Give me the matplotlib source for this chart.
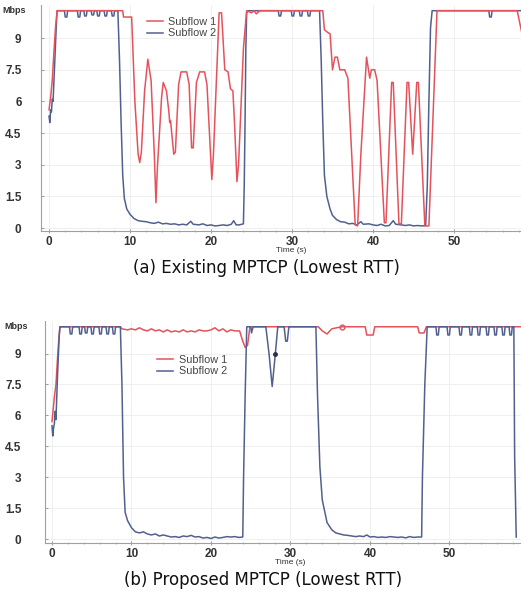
import matplotlib
matplotlib.use("Agg")
import matplotlib.pyplot as plt
from matplotlib.ticker import MultipleLocator

# ---------------- data ----------------
# (a) Existing MPTCP - Subflow 1 (red)
a_s1_t = [0.0, 0.2, 0.4, 0.6, 0.8, 1.0, 9.1, 9.2, 10.2, 10.3, 10.6, 11.0, 11.2, 11.4, 11.8, 12.2, 12.4,
          12.6, 13.0, 13.2, 13.4, 13.9, 14.1, 14.5, 14.8, 14.9, 15.0, 15.4, 15.6, 16.0, 16.3, 17.0, 17.3,
          17.6, 17.8, 18.2, 18.6, 19.2, 19.5, 20.1, 20.3, 21.0, 21.3, 21.7, 22.1, 22.4, 22.7, 22.9, 23.2,
          23.4, 24.0, 24.4, 25.0, 25.3, 25.6, 26.0, 33.8, 34.0, 34.3, 34.7, 35.0, 35.3, 35.6, 35.9, 36.5,
          36.9, 37.8, 38.1, 38.5, 39.2, 39.6, 39.8, 40.2, 40.5, 41.4, 41.6, 42.3, 42.5, 43.2, 43.5, 44.2,
          44.4, 44.9, 45.4, 45.6, 46.4, 46.9, 47.9, 57.8, 58.4]
a_s1_v = [5.6, 6.2, 7.0, 8.3, 9.5, 10.3, 10.3, 10.0, 10.0, 9.0, 6.0, 3.5, 3.1, 3.6, 6.5, 8.0, 7.5,
          7.0, 3.5, 1.2, 3.0, 6.2, 6.9, 6.5, 5.5, 5.0, 5.1, 3.5, 3.6, 6.8, 7.4, 7.4, 6.8,
          3.8, 3.8, 6.9, 7.4, 7.4, 6.8, 2.3, 3.5, 10.2, 10.2, 7.5, 7.4, 6.6, 6.5, 5.0, 2.2,
          3.0, 8.5, 10.3, 10.2, 10.3, 10.15, 10.3, 10.3, 9.4, 9.3, 9.2, 7.5, 8.1, 8.1, 7.5, 7.5,
          7.1, 0.15, 0.1, 3.5, 8.1, 7.1, 7.5, 7.5, 7.0, 0.25, 0.25, 6.9, 6.9, 0.2, 0.2, 6.9,
          6.9, 3.5, 6.9, 6.9, 0.1, 0.1, 10.3, 10.3, 9.2]

# (a) Existing MPTCP - Subflow 2 (blue)
a_s2_t = [0.0, 0.1, 0.2, 0.3, 0.4, 0.5, 0.7, 0.9, 1.0, 1.9, 2.0, 2.2, 2.3, 3.5, 3.6, 3.8, 3.9, 4.3, 4.4,
          4.6, 4.7, 5.2, 5.3, 5.5, 5.6, 5.9, 6.0, 6.2, 6.3, 6.8, 6.9, 7.1, 7.2, 7.7, 7.8, 8.0, 8.1, 8.5,
          8.7, 8.9, 9.1, 9.3, 9.6, 10.0, 10.5, 11.0, 11.5, 12.0, 12.5, 13.0, 13.5, 14.0, 14.5, 15.0,
          15.5, 16.0, 16.5, 17.0, 17.5, 17.8, 18.5, 19.0, 19.5, 20.0, 20.5, 21.0, 21.5, 22.0, 22.5,
          22.8, 23.1, 23.5, 24.0, 24.1, 24.2, 24.3, 24.4, 24.6, 28.3, 28.4, 28.6, 28.7, 29.9, 30.0,
          30.2, 30.3, 30.9, 31.0, 31.2, 31.3, 31.9, 32.0, 32.2, 32.3, 33.4, 33.6, 33.8, 34.0, 34.3,
          34.7, 35.0, 35.5, 36.0, 36.5, 37.0, 37.5, 38.0, 38.5, 38.8, 39.5, 40.0, 40.5, 41.0, 41.5,
          42.0, 42.5, 42.8, 43.5, 44.0, 44.5, 45.0, 45.5, 46.0, 46.5, 46.7, 46.9, 47.1, 47.3, 54.3,
          54.4, 54.6, 54.7, 58.4]
a_s2_v = [5.3, 5.0, 5.6, 5.5, 6.1, 6.0, 7.8, 9.6, 10.3, 10.3, 10.0, 10.0, 10.3, 10.3, 10.0, 10.0, 10.3, 10.3, 10.05,
          10.05, 10.3, 10.3, 10.1, 10.1, 10.3, 10.3, 10.05, 10.05, 10.3, 10.3, 10.05, 10.05, 10.3, 10.3, 10.05, 10.05, 10.3, 10.3,
          8.0, 5.0, 2.5, 1.4, 0.9, 0.65, 0.45, 0.35, 0.32, 0.3, 0.25, 0.22, 0.28, 0.2, 0.22, 0.18,
          0.2, 0.15, 0.18, 0.15, 0.32, 0.18, 0.15, 0.2, 0.12, 0.15, 0.1, 0.12, 0.15, 0.12, 0.18,
          0.35, 0.15, 0.15, 0.2, 2.0, 5.0, 8.5, 10.2, 10.3, 10.3, 10.05, 10.05, 10.3, 10.3, 10.05,
          10.05, 10.3, 10.3, 10.05, 10.05, 10.3, 10.3, 10.05, 10.05, 10.3, 10.3, 8.0, 5.0, 2.5, 1.5,
          0.9, 0.6, 0.4, 0.3, 0.28, 0.2, 0.22, 0.15, 0.3, 0.18, 0.2, 0.15, 0.12, 0.18, 0.1,
          0.12, 0.35, 0.18, 0.15, 0.12, 0.15, 0.1, 0.12, 0.1, 0.12, 2.0, 6.0, 9.5, 10.3, 10.3,
          10.0, 10.0, 10.3, 10.3]

# (b) Proposed MPTCP - Subflow 1 (red)
b_s1_t = [0.0, 0.2, 0.3, 0.5, 0.7, 0.9, 1.0, 8.6, 8.8, 9.5, 10.0, 10.5, 11.0, 11.5, 12.0, 12.5, 13.0,
          13.5, 14.0, 14.5, 15.0, 15.5, 16.0, 16.5, 17.0, 17.5, 18.0, 18.5, 19.0, 19.5, 20.0, 20.5,
          21.0, 21.5, 22.0, 22.5, 23.0, 23.6, 24.0, 24.3, 24.6, 24.9, 33.5, 34.0, 34.6, 35.2, 35.8,
          36.5, 39.4, 39.6, 40.4, 40.6, 46.0, 46.2, 46.8, 47.1, 59.0]
b_s1_v = [5.7, 6.5, 6.9, 7.5, 8.8, 9.9, 10.3, 10.3, 10.2, 10.15, 10.2, 10.15, 10.25, 10.15, 10.1, 10.2, 10.1,
          10.15, 10.05, 10.15, 10.05, 10.1, 10.05, 10.15, 10.05, 10.1, 10.05, 10.15, 10.1, 10.1, 10.15, 10.25,
          10.1, 10.2, 10.05, 10.15, 10.1, 10.1, 9.6, 9.3, 9.4, 10.3, 10.3, 10.1, 9.95, 10.2, 10.25,
          10.3, 10.3, 9.9, 9.9, 10.3, 10.3, 10.0, 10.0, 10.3, 10.3]

# (b) Proposed MPTCP - Subflow 2 (blue)
b_s2_t = [0.0, 0.1, 0.2, 0.3, 0.4, 0.5, 0.7, 0.9, 1.0, 2.2, 2.3, 2.5, 2.6, 3.4, 3.5, 3.7, 3.8, 4.1, 4.2,
          4.4, 4.5, 4.9, 5.0, 5.2, 5.3, 5.9, 6.0, 6.2, 6.3, 6.8, 6.9, 7.1, 7.2, 7.6, 7.7, 7.9, 8.0, 8.6,
          8.8, 9.0, 9.2, 9.5, 10.0, 10.5, 11.0, 11.5, 12.0, 12.5, 13.0, 13.5, 14.0, 14.5, 15.0, 15.5,
          16.0, 16.5, 17.0, 17.5, 18.0, 18.5, 19.0, 19.5, 20.0, 20.5, 21.0, 21.5, 22.0, 22.5, 23.0,
          23.5, 24.0, 24.1, 24.3, 24.5, 25.0, 25.1, 25.3, 26.9, 27.3, 27.7, 28.1, 28.4, 29.2, 29.4,
          29.6, 29.8, 33.2, 33.4, 33.7, 34.0, 34.6, 35.2, 35.7, 36.2, 36.7, 37.2, 37.7, 38.2, 38.7,
          39.2, 39.6, 40.0, 40.5, 41.0, 41.5, 42.0, 42.5, 43.0, 43.5, 44.0, 44.5, 45.0, 45.5, 46.0,
          46.5, 46.6, 46.9, 47.2, 48.3, 48.4, 48.6, 48.7, 49.7, 49.8, 50.0, 50.1, 51.2, 51.3, 51.5,
          51.6, 52.5, 52.6, 52.8, 52.9, 53.5, 53.6, 53.8, 53.9, 54.6, 54.7, 54.9, 55.0, 55.6, 55.7,
          55.9, 56.0, 56.6, 56.7, 56.9, 57.0, 57.5, 57.6, 57.8, 57.9, 58.1, 58.2, 58.4]
b_s2_v = [5.5, 5.0, 5.4, 5.6, 6.2, 5.8, 8.0, 9.8, 10.3, 10.3, 9.95, 9.95, 10.3, 10.3, 9.95, 9.95, 10.3, 10.3, 10.0,
          10.0, 10.3, 10.3, 9.95, 9.95, 10.3, 10.3, 9.95, 9.95, 10.3, 10.3, 9.95, 9.95, 10.3, 10.3, 9.95, 9.95, 10.3, 10.3,
          7.5, 3.0, 1.3, 0.9, 0.55, 0.35, 0.3, 0.35, 0.25, 0.2, 0.25, 0.15, 0.2, 0.15, 0.1, 0.12,
          0.08, 0.15, 0.12, 0.18, 0.1, 0.12, 0.05, 0.08, 0.03, 0.1, 0.05, 0.08, 0.12, 0.1, 0.12,
          0.08, 0.1, 3.0, 7.0, 10.3, 10.3, 10.0, 10.3, 10.3, 9.0, 7.4, 9.0, 10.3, 10.3, 9.6,
          9.6, 10.3, 10.3, 7.0, 3.5, 1.9, 0.8, 0.45, 0.3, 0.25, 0.2, 0.18, 0.15, 0.12, 0.15,
          0.12, 0.2, 0.1, 0.12, 0.08, 0.1, 0.08, 0.12, 0.1, 0.08, 0.1, 0.06, 0.12, 0.08, 0.1,
          0.1, 3.0, 7.5, 10.3, 10.3, 9.9, 9.9, 10.3, 10.3, 9.9, 9.9, 10.3, 10.3, 9.9, 9.9,
          10.3, 10.3, 9.9, 9.9, 10.3, 10.3, 9.9, 9.9, 10.3, 10.3, 9.9, 9.9, 10.3, 10.3, 9.9,
          9.9, 10.3, 10.3, 9.9, 9.9, 10.3, 10.3, 9.9, 9.9, 10.3, 10.3, 4.0, 0.1]

# indices of the points highlighted with small markers in panel (b)
b_s1_marked = [47]
b_s2_marked = [80]

y_ticks = [0, 1.5, 3, 4.5, 6, 7.5, 9]
y_tick_labels = ["0", "1.5", "3", "4.5", "6", "7.5", "9"]
x_ticks = [0, 10, 20, 30, 40, 50]
x_tick_labels = ["0", "10", "20", "30", "40", "50"]
series_labels = ["Subflow 1", "Subflow 2"]
captions = ["(a) Existing MPTCP (Lowest RTT)", "(b) Proposed MPTCP (Lowest RTT)"]
unit_label = "Mbps"
x_label = "Time (s)"

# ---------------- style ----------------
RED = "#e5525c"
BLUE = "#52608f"
W, H = 521, 595
plt.rcParams["font.family"] = ["Liberation Sans", "DejaVu Sans"]

fig = plt.figure(figsize=(W / 100, H / 100), dpi=100)


def px_axes(left, top, right, bottom):
    return fig.add_axes([left / W, 1 - bottom / H, (right - left) / W, (bottom - top) / H])


def style(ax, xlim, ylim, ypad):
    ax.set_xlim(*xlim)
    ax.set_ylim(*ylim)
    for s in ["top", "right"]:
        ax.spines[s].set_visible(False)
    for s in ["left", "bottom"]:
        ax.spines[s].set_color("#a0a0a0")
        ax.spines[s].set_linewidth(0.8)
    ax.set_yticks(y_ticks)
    ax.set_yticklabels(y_tick_labels)
    ax.set_xticks(x_ticks)
    ax.set_xticklabels(x_tick_labels)
    ax.xaxis.set_minor_locator(MultipleLocator(2))
    ax.tick_params(axis="y", length=2, direction="in", pad=ypad, labelsize=8.5,
                   colors="#a0a0a0", labelcolor="#333333")
    ax.tick_params(axis="x", which="major", length=3, direction="inout", pad=2, labelsize=8.5,
                   colors="#a0a0a0", labelcolor="#333333")
    ax.tick_params(axis="x", which="minor", length=2, direction="inout", colors="#b0b0b0")
    ax.grid(True, which="major", color="#ececec", linewidth=0.6)
    ax.set_axisbelow(True)
    for lab in ax.get_yticklabels() + ax.get_xticklabels():
        lab.set_fontweight("bold")


def legend(ax, anchor):
    ax.legend(loc="upper left", bbox_to_anchor=anchor, frameon=False, fontsize=7.8,
              handlelength=1.5, handletextpad=0.5, labelspacing=0.12, labelcolor="#444444")


# ---- panel (a)
ax1 = px_axes(41, 5, 521, 231)
ax1.plot(a_s1_t, a_s1_v, color=RED, lw=1.1, label=series_labels[0], zorder=3)
ax1.plot(a_s2_t, a_s2_v, color=BLUE, lw=1.1, label=series_labels[1], zorder=2)
style(ax1, (-0.99, 58.27), (-0.14, 10.57), 14)
ax1.text(-0.055, 0.975, unit_label, transform=ax1.transAxes, ha="center", va="center",
         fontsize=6.5, fontweight="bold", color="#333333")
legend(ax1, (0.2, 0.99))
fig.text(291 / W, 1 - 250.5 / H, x_label, ha="center", va="center", fontsize=6, color="#333333")
fig.text(266 / W, 1 - 268 / H, captions[0], ha="center", va="center", fontsize=12,
         family="DejaVu Sans", color="#111111")

# ---- panel (b)
ax2 = px_axes(45, 321, 521, 543)
ax2.plot(b_s1_t, b_s1_v, color=RED, lw=1.1, label=series_labels[0], zorder=2)
ax2.plot(b_s2_t, b_s2_v, color=BLUE, lw=1.1, label=series_labels[1], zorder=3)
ax2.plot([b_s1_t[i] for i in b_s1_marked], [b_s1_v[i] for i in b_s1_marked], "o", ms=3.5,
         mfc="none", mec=RED, zorder=4)
ax2.plot([b_s2_t[i] for i in b_s2_marked], [b_s2_v[i] for i in b_s2_marked], "o", ms=2.5,
         mfc="#2a3050", mec="#2a3050", zorder=4)
style(ax2, (-0.88, 59.0), (-0.19, 10.58), 17)
ax2.text(-0.06, 0.975, unit_label, transform=ax2.transAxes, ha="center", va="center",
         fontsize=6.5, fontweight="bold", color="#333333")
legend(ax2, (0.215, 0.89))
fig.text(290 / W, 1 - 563 / H, x_label, ha="center", va="center", fontsize=6, color="#333333")
fig.text(263 / W, 1 - 580 / H, captions[1], ha="center", va="center", fontsize=12,
         family="DejaVu Sans", color="#111111")

fig.savefig("out.png", dpi=100)
